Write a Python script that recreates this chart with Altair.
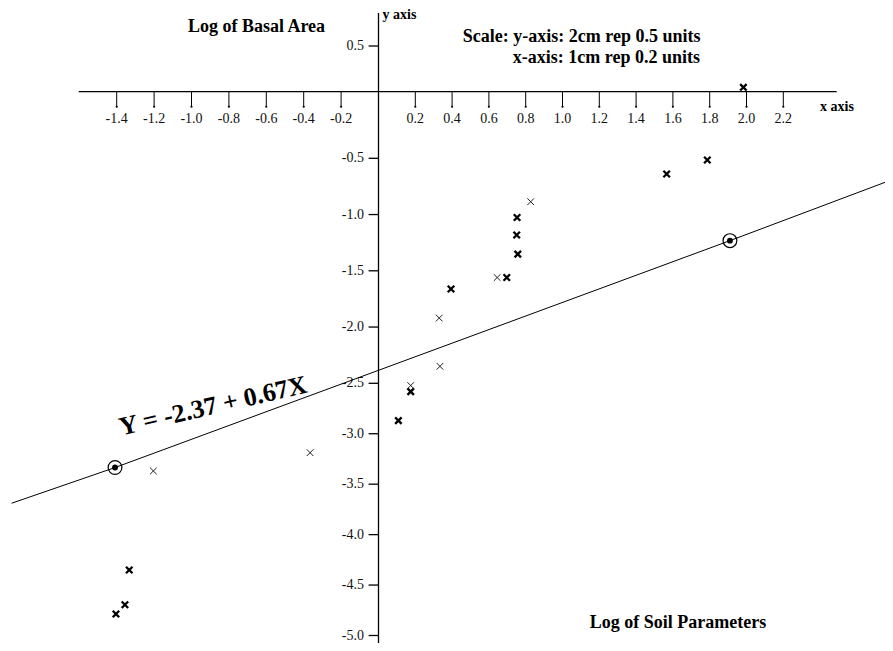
import altair as alt
import pandas as pd

# ---------------- data ----------------
# crosses drawn with a heavy pen
bold_x = [1.983, 1.566, 1.787, -1.333, -1.356, -1.404, 0.753, 0.751, 0.757, 0.697, 0.394, 0.175, 0.108]
bold_y = [0.048, -0.640, -0.515, -4.351, -4.695, -4.787, -1.026, -1.182, -1.352, -1.560, -1.662, -2.583, -2.870]
# crosses drawn with a light pen
thin_x = [-1.204, -0.366, 0.827, 0.645, 0.330, 0.334, 0.175]
thin_y = [-3.369, -3.188, -0.886, -1.560, -1.920, -2.349, -2.522]
# circled points used to draw the fitted line
fit_x = [-1.409, 1.910]
fit_y = [-3.335, -1.232]
# fitted line Y = -2.37 + 0.67X as drawn
line_x = [-1.962, -1.409, 1.910, 2.796]
line_y = [-3.689, -3.335, -1.232, -0.687]

x_ticks = [-1.4, -1.2, -1.0, -0.8, -0.6, -0.4, -0.2, 0.2, 0.4, 0.6, 0.8, 1.0, 1.2, 1.4, 1.6, 1.8, 2.0, 2.2]
x_labels = ["-1.4", "-1.2", "-1.0", "-0.8", "-0.6", "-0.4", "-0.2", "0.2", "0.4", "0.6", "0.8",
            "1.0", "1.2", "1.4", "1.6", "1.8", "2.0", "2.2"]
y_ticks = [0.5, -0.5, -1.0, -1.5, -2.0, -2.5, -3.0, -3.5, -4.0, -4.5, -5.0]
y_labels = ["0.5", "-0.5", "-1.0", "-1.5", "-2.0", "-2.5", "-3.0", "-3.5", "-4.0", "-4.5", "-5.0"]

# extent of the hand-drawn axes (data units)
x_axis_span = [-1.603, 2.490]
y_axis_span = [0.861, -5.2]
x_tick_len = -0.113   # ticks hang below the x axis
y_tick_len = -0.053   # ticks stick out left of the y axis

W, H = 877, 635
SERIF = "Liberation Serif"
XPATH = "M-1,-1L1,1M1,-1L-1,1"

# hand-drawn graph paper: piecewise linear scales
xs = alt.Scale(domain=[-1.4, 0, 2.2], range=[108.7, 370.5, 775.3], zero=False, nice=False)
ys = alt.Scale(domain=[-5.0, -2.5, -0.5, 0, 0.5], range=[627.5, 375.3, 150.3, 83.7, 38],
               zero=False, nice=False)


def X(f):
    return alt.X(f, type="quantitative", scale=xs, axis=None)


def Y(f):
    return alt.Y(f, type="quantitative", scale=ys, axis=None)


xaxis = alt.Chart(pd.DataFrame({"a": [x_axis_span[0]], "b": [x_axis_span[1]], "y": [0.0]})).mark_rule(
    color="black", strokeWidth=1.3).encode(x=X("a"), x2="b", y=Y("y"))
yaxis = alt.Chart(pd.DataFrame({"a": [y_axis_span[0]], "b": [y_axis_span[1]], "x": [0.0]})).mark_rule(
    color="black", strokeWidth=1.3).encode(y=Y("a"), y2="b", x=X("x"))

xt_df = pd.DataFrame({"x": x_ticks, "lab": x_labels, "y": 0.0, "y2": x_tick_len})
xticks = alt.Chart(xt_df).mark_rule(color="black", strokeWidth=1).encode(x=X("x"), y=Y("y"), y2="y2")
xtickdots = alt.Chart(xt_df).mark_point(filled=True, color="black", size=5, opacity=1).encode(
    x=X("x"), y=Y("y2"))
xlabels = alt.Chart(xt_df).mark_text(font=SERIF, fontSize=14, dy=27, baseline="middle",
                                     color="#111").encode(x=X("x"), y=Y("y"), text="lab")

yt_df = pd.DataFrame({"y": y_ticks, "lab": y_labels, "x": 0.0, "x2": y_tick_len})
yticks = alt.Chart(yt_df).mark_rule(color="black", strokeWidth=1.3).encode(y=Y("y"), x=X("x"), x2="x2")
ylabels = alt.Chart(yt_df).mark_text(font=SERIF, fontSize=14, dx=-14.5, align="right",
                                     baseline="middle", color="#111").encode(x=X("x"), y=Y("y"), text="lab")

fitline = alt.Chart(pd.DataFrame({"x": line_x, "y": line_y})).mark_line(
    color="black", strokeWidth=1).encode(x=X("x"), y=Y("y"))

fit_df = pd.DataFrame({"x": fit_x, "y": fit_y})
rings = alt.Chart(fit_df).mark_point(shape="circle", size=190, filled=False, color="black",
                                     strokeWidth=1.2, opacity=1).encode(x=X("x"), y=Y("y"))
dots = alt.Chart(fit_df).mark_point(shape="circle", size=35, filled=True, color="black",
                                    opacity=1).encode(x=X("x"), y=Y("y"))

bold = alt.Chart(pd.DataFrame({"x": bold_x, "y": bold_y})).mark_point(
    shape=XPATH, size=42, filled=False, color="black", strokeWidth=2.3, opacity=1).encode(
    x=X("x"), y=Y("y"))
thin = alt.Chart(pd.DataFrame({"x": thin_x, "y": thin_y})).mark_point(
    shape=XPATH, size=45, filled=False, color="#222", strokeWidth=1, opacity=1).encode(
    x=X("x"), y=Y("y"))


def note(text, px, py, size, align="left", angle=0, bold_=True):
    kw = dict(font=SERIF, fontSize=size, fontWeight="bold" if bold_ else "normal",
              align=align, baseline="middle", color="black")
    if angle:
        kw["angle"] = angle
    return alt.Chart(pd.DataFrame({"t": [text]})).mark_text(**kw).encode(
        x=alt.value(px), y=alt.value(py), text="t")


notes = [
    note("Log of Basal Area", 248.5, 19, 18, align="center"),
    note("y axis", 374.5, 7, 14),
    note("Scale: y-axis: 2cm rep 0.5 units", 692.5, 29, 18, align="right"),
    note("x-axis: 1cm rep 0.2 units", 692, 49.5, 18, align="right"),
    note("x axis", 812, 99, 14),
    note("Log of Soil Parameters", 670, 615, 18, align="center"),
    note("Y = -2.37 + 0.67X", 205, 398, 26, align="center", angle=347),
]

chart = alt.layer(xaxis, yaxis, xticks, xtickdots, xlabels, yticks, ylabels, fitline, rings, dots,
                  bold, thin, *notes).properties(
    width=W, height=H, padding=0, autosize=alt.AutoSizeParams(type="none"),
    background="white").configure_view(stroke=None)

chart.save("out.html", embed_options={"renderer": "svg", "actions": False})
